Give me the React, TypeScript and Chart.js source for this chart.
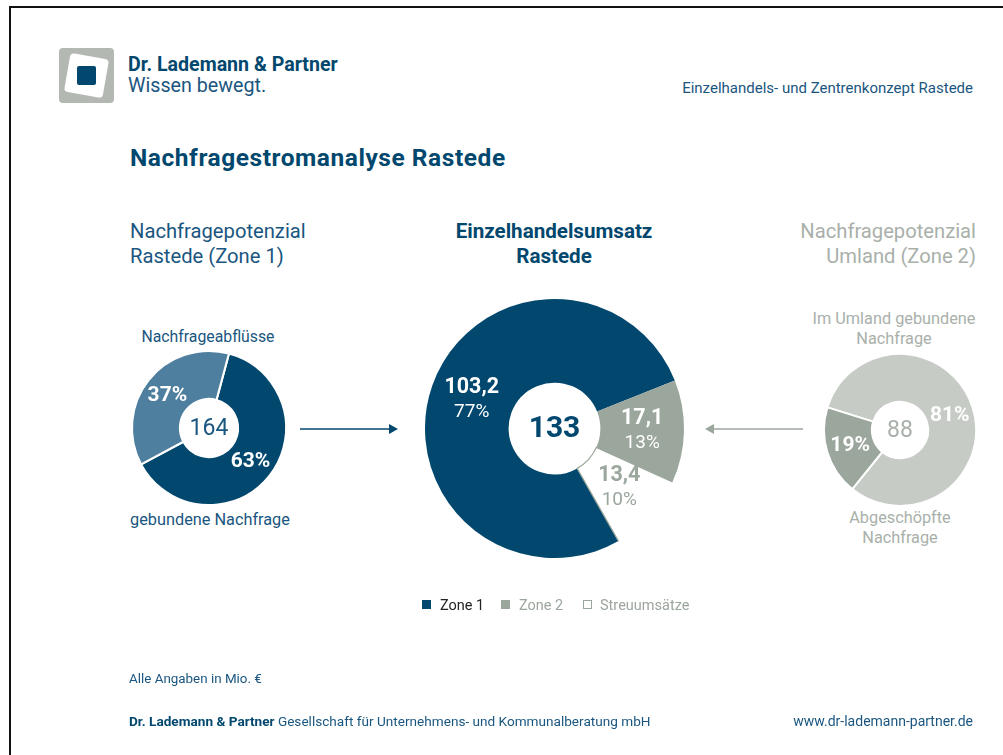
import React, { useEffect, useRef } from 'react';
import { Chart, registerables } from 'chart.js';

Chart.register(...registerables);

const FONT = 'Roboto, "Noto Sans", sans-serif';
const DARK = '#02486e';
const TEXT_BLUE = '#1a5680';
const MID_BLUE = '#4f7f9f';
const GREY = '#9ba69c';
const LIGHT_GREY = '#c6cbc5';
const LIGHT_TEXT = '#a9b0aa';

// Zone 1 (Rastede) demand potential
const zone1Categories = ['gebundene Nachfrage', 'Nachfrageabflüsse'];
const zone1Shares = [63, 37];
const zone1ShareLabels = ['63%', '37%'];
const zone1Total = '164';

// Retail turnover Rastede
const salesCategories = ['Zone 1', 'Zone 2', 'Streuumsätze'];
const salesValues = [103.2, 17.1, 13.4];
const salesValueLabels = ['103,2', '17,1', '13,4'];
const salesShareLabels = ['77%', '13%', '10%'];
const salesTotal = '133';

// Zone 2 (Umland) demand potential
const zone2Categories = ['Im Umland gebundene Nachfrage', 'Abgeschöpfte Nachfrage'];
const zone2Shares = [81, 19];
const zone2ShareLabels = ['81%', '19%'];
const zone2Total = '88';

type DonutProps = {
  cx: number;
  cy: number;
  radius: number;
  cutout: number;
  rotation: number;
  categories: string[];
  values: number[];
  colors: string[];
  borderWidth: number;
  line1: string[];
  line1Font: string;
  line1Colors: string[];
  line2?: string[];
  line2Font?: string;
  line2Colors?: string[];
  center: string;
  centerFont: string;
  centerColor: string;
  edgeIndex?: number;
  edgeColor?: string;
};

const labelPlugin = {
  id: 'donutLabels',
  afterDatasetsDraw(chart: any, _args: any, opts: any) {
    const ctx = chart.ctx as CanvasRenderingContext2D;
    const meta = chart.getDatasetMeta(0);
    const arcs = meta.data as any[];
    ctx.save();
    if (opts.edgeIndex !== undefined && opts.edgeIndex !== null) {
      const a = arcs[opts.edgeIndex];
      const { x, y, startAngle, endAngle, innerRadius, outerRadius } = a.getProps([
        'x', 'y', 'startAngle', 'endAngle', 'innerRadius', 'outerRadius',
      ]);
      ctx.strokeStyle = opts.edgeColor;
      ctx.lineWidth = 1.2;
      ctx.beginPath();
      ctx.moveTo(x + Math.cos(startAngle) * outerRadius, y + Math.sin(startAngle) * outerRadius);
      ctx.lineTo(x + Math.cos(startAngle) * innerRadius, y + Math.sin(startAngle) * innerRadius);
      ctx.arc(x, y, innerRadius, startAngle, endAngle);
      ctx.lineTo(x + Math.cos(endAngle) * outerRadius, y + Math.sin(endAngle) * outerRadius);
      ctx.stroke();
    }
    ctx.textAlign = 'center';
    ctx.textBaseline = 'middle';
    arcs.forEach((arc, i) => {
      const p = arc.tooltipPosition(false);
      if (opts.line2) {
        ctx.font = opts.line1Font;
        ctx.fillStyle = opts.line1Colors[i];
        ctx.fillText(opts.line1[i], p.x, p.y - 12);
        ctx.font = opts.line2Font;
        ctx.fillStyle = opts.line2Colors[i];
        ctx.fillText(opts.line2[i], p.x, p.y + 13);
      } else {
        ctx.font = opts.line1Font;
        ctx.fillStyle = opts.line1Colors[i];
        ctx.fillText(opts.line1[i], p.x, p.y + 1);
      }
    });
    const a0 = arcs[0];
    ctx.font = opts.centerFont;
    ctx.fillStyle = opts.centerColor;
    ctx.fillText(opts.center, a0.x, a0.y + 1);
    ctx.restore();
  },
};

function Donut(props: DonutProps) {
  const ref = useRef<HTMLCanvasElement | null>(null);
  const size = props.radius * 2 + 12;
  useEffect(() => {
    if (!ref.current) return;
    const chart = new Chart(ref.current, {
      type: 'doughnut',
      data: {
        labels: props.categories,
        datasets: [
          {
            data: props.values,
            backgroundColor: props.colors,
            borderColor: '#ffffff',
            borderWidth: props.borderWidth,
            hoverOffset: 0,
          },
        ],
      },
      options: {
        responsive: false,
        devicePixelRatio: 1,
        animation: false,
        radius: props.radius,
        cutout: props.cutout,
        rotation: props.rotation,
        layout: { padding: 0 },
        events: [],
        plugins: {
          legend: { display: false },
          tooltip: { enabled: false },
          donutLabels: {
            line1: props.line1,
            line1Font: props.line1Font,
            line1Colors: props.line1Colors,
            line2: props.line2,
            line2Font: props.line2Font,
            line2Colors: props.line2Colors,
            center: props.center,
            centerFont: props.centerFont,
            centerColor: props.centerColor,
            edgeIndex: props.edgeIndex,
            edgeColor: props.edgeColor,
          },
        } as any,
      },
      plugins: [labelPlugin],
    });
    return () => chart.destroy();
  }, []);
  return (
    <canvas
      ref={ref}
      width={size}
      height={size}
      style={{
        position: 'absolute',
        left: props.cx - size / 2,
        top: props.cy - size / 2,
        width: size,
        height: size,
      }}
    />
  );
}

type TProps = {
  x: number;
  y: number;
  size: number;
  color: string;
  bold?: boolean;
  align?: 'left' | 'center' | 'right';
  children: React.ReactNode;
  spacing?: number;
  lh?: number;
};

function T({ x, y, size, color, bold, align = 'left', children, spacing = 0, lh }: TProps) {
  const lineH = lh ?? Math.round(size * 1.2);
  const style: React.CSSProperties = {
    position: 'absolute',
    top: y - lineH / 2,
    fontSize: size,
    lineHeight: `${lineH}px`,
    color,
    fontWeight: bold ? 700 : 400,
    whiteSpace: 'nowrap',
    letterSpacing: spacing,
  };
  if (align === 'left') style.left = x;
  else if (align === 'right') style.right = 1003 - x;
  else {
    style.left = x - 300;
    style.width = 600;
    style.textAlign = 'center';
  }
  return <div style={style}>{children}</div>;
}

export default function App() {
  return (
    <div
      style={{
        position: 'absolute',
        left: 0,
        top: 0,
        width: 1003,
        height: 755,
        overflow: 'hidden',
        background: '#ffffff',
        fontFamily: FONT,
      }}
    >
      {/* frame */}
      <div style={{ position: 'absolute', left: 9, top: 6, width: 1000, height: 2, background: '#111' }} />
      <div style={{ position: 'absolute', left: 9, top: 6, width: 2, height: 760, background: '#111' }} />

      {/* logo */}
      <svg style={{ position: 'absolute', left: 0, top: 0 }} width={130} height={120}>
        <rect x={59} y={48} width={55} height={55} rx={4} fill="#b3b9b2" />
        <g transform="rotate(10 86.5 75.5)">
          <rect x={67} y={56} width={39} height={39} rx={4} fill="#ffffff" />
        </g>
        <rect x={77} y={66} width={19} height={19} rx={2} fill={DARK} />
      </svg>
      <T x={128} y={65} size={19.6} color={DARK} bold lh={20}>Dr. Lademann &amp; Partner</T>
      <T x={128} y={86} size={19.7} color={TEXT_BLUE} lh={20}>Wissen bewegt.</T>
      <T x={973} y={88} size={15} color={TEXT_BLUE} align="right">
        Einzelhandels- und Zentrenkonzept Rastede
      </T>

      <T x={130} y={157} size={24.5} color={DARK} bold spacing={0.55}>Nachfragestromanalyse Rastede</T>

      {/* column headings */}
      <T x={130} y={231} size={20.2} color={TEXT_BLUE}>Nachfragepotenzial</T>
      <T x={130} y={256} size={20.2} color={TEXT_BLUE}>Rastede (Zone 1)</T>
      <T x={554} y={231} size={20.6} color={DARK} bold align="center">Einzelhandelsumsatz</T>
      <T x={554} y={256} size={20.6} color={DARK} bold align="center">Rastede</T>
      <T x={976} y={231} size={20.2} color={LIGHT_TEXT} align="right">Nachfragepotenzial</T>
      <T x={976} y={256} size={20.2} color={LIGHT_TEXT} align="right">Umland (Zone 2)</T>

      {/* donut side labels */}
      <T x={208} y={336} size={15.8} color={TEXT_BLUE} align="center">{zone1Categories[1]}</T>
      <T x={210} y={520} size={16.3} color={TEXT_BLUE} align="center">{zone1Categories[0]}</T>
      <T x={894} y={319} size={16.3} color={LIGHT_TEXT} align="center">Im Umland gebundene</T>
      <T x={894} y={339} size={16.3} color={LIGHT_TEXT} align="center">Nachfrage</T>
      <T x={900} y={518} size={16.3} color={LIGHT_TEXT} align="center">Abgeschöpfte</T>
      <T x={900} y={538} size={16.3} color={LIGHT_TEXT} align="center">Nachfrage</T>

      <Donut
        cx={209}
        cy={428}
        radius={77}
        cutout={31}
        rotation={15}
        categories={zone1Categories}
        values={zone1Shares}
        colors={[DARK, MID_BLUE]}
        borderWidth={2}
        line1={zone1ShareLabels}
        line1Font={`bold 21px ${FONT}`}
        line1Colors={['#ffffff', '#ffffff']}
        center={zone1Total}
        centerFont={`23px ${FONT}`}
        centerColor={TEXT_BLUE}
      />
      <Donut
        cx={554}
        cy={428}
        radius={129.5}
        cutout={48}
        rotation={150.4}
        categories={salesCategories}
        values={salesValues}
        colors={[DARK, GREY, '#ffffff']}
        borderWidth={0}
        line1={salesValueLabels}
        line1Font={`bold 21.5px ${FONT}`}
        line1Colors={['#ffffff', '#ffffff', GREY]}
        line2={salesShareLabels}
        line2Font={`19px ${FONT}`}
        line2Colors={['#ffffff', '#ffffff', GREY]}
        center={salesTotal}
        centerFont={`bold 30px ${FONT}`}
        centerColor={DARK}
        edgeIndex={2}
        edgeColor={GREY}
      />
      <Donut
        cx={900}
        cy={430}
        radius={76}
        cutout={30}
        rotation={287.3}
        categories={zone2Categories}
        values={zone2Shares}
        colors={[LIGHT_GREY, GREY]}
        borderWidth={2}
        line1={zone2ShareLabels}
        line1Font={`bold 21px ${FONT}`}
        line1Colors={['#ffffff', '#ffffff']}
        center={zone2Total}
        centerFont={`23px ${FONT}`}
        centerColor={LIGHT_TEXT}
      />

      {/* arrows */}
      <svg style={{ position: 'absolute', left: 0, top: 0 }} width={1003} height={755} pointerEvents="none">
        <line x1={300} y1={429} x2={390} y2={429} stroke={DARK} strokeWidth={1.5} />
        <polygon points="389,424 398,429 389,434" fill={DARK} />
        <line x1={803} y1={429} x2={713} y2={429} stroke={GREY} strokeWidth={1.5} />
        <polygon points="714,424 705,429 714,434" fill={GREY} />
      </svg>

      {/* legend */}
      <div style={{ position: 'absolute', left: 422, top: 600, width: 9, height: 9, background: DARK }} />
      <T x={440} y={605} size={14.5} color="#222">{salesCategories[0]}</T>
      <div style={{ position: 'absolute', left: 501, top: 600, width: 9, height: 9, background: GREY }} />
      <T x={519} y={605} size={14.5} color={GREY}>{salesCategories[1]}</T>
      <div style={{ position: 'absolute', left: 583, top: 600, width: 7, height: 7, border: `1px solid ${GREY}`, background: '#fff' }} />
      <T x={600} y={605} size={14.5} color={GREY}>{salesCategories[2]}</T>

      {/* notes & footer */}
      <T x={129} y={679} size={13.4} color={TEXT_BLUE}>Alle Angaben in Mio. €</T>
      <T x={129} y={721} size={13.6} color={TEXT_BLUE}>
        <b style={{ color: DARK }}>Dr. Lademann &amp; Partner</b> Gesellschaft für Unternehmens- und Kommunalberatung mbH
      </T>
      <T x={973} y={721} size={14} color={TEXT_BLUE} align="right">www.dr-lademann-partner.de</T>
    </div>
  );
}
